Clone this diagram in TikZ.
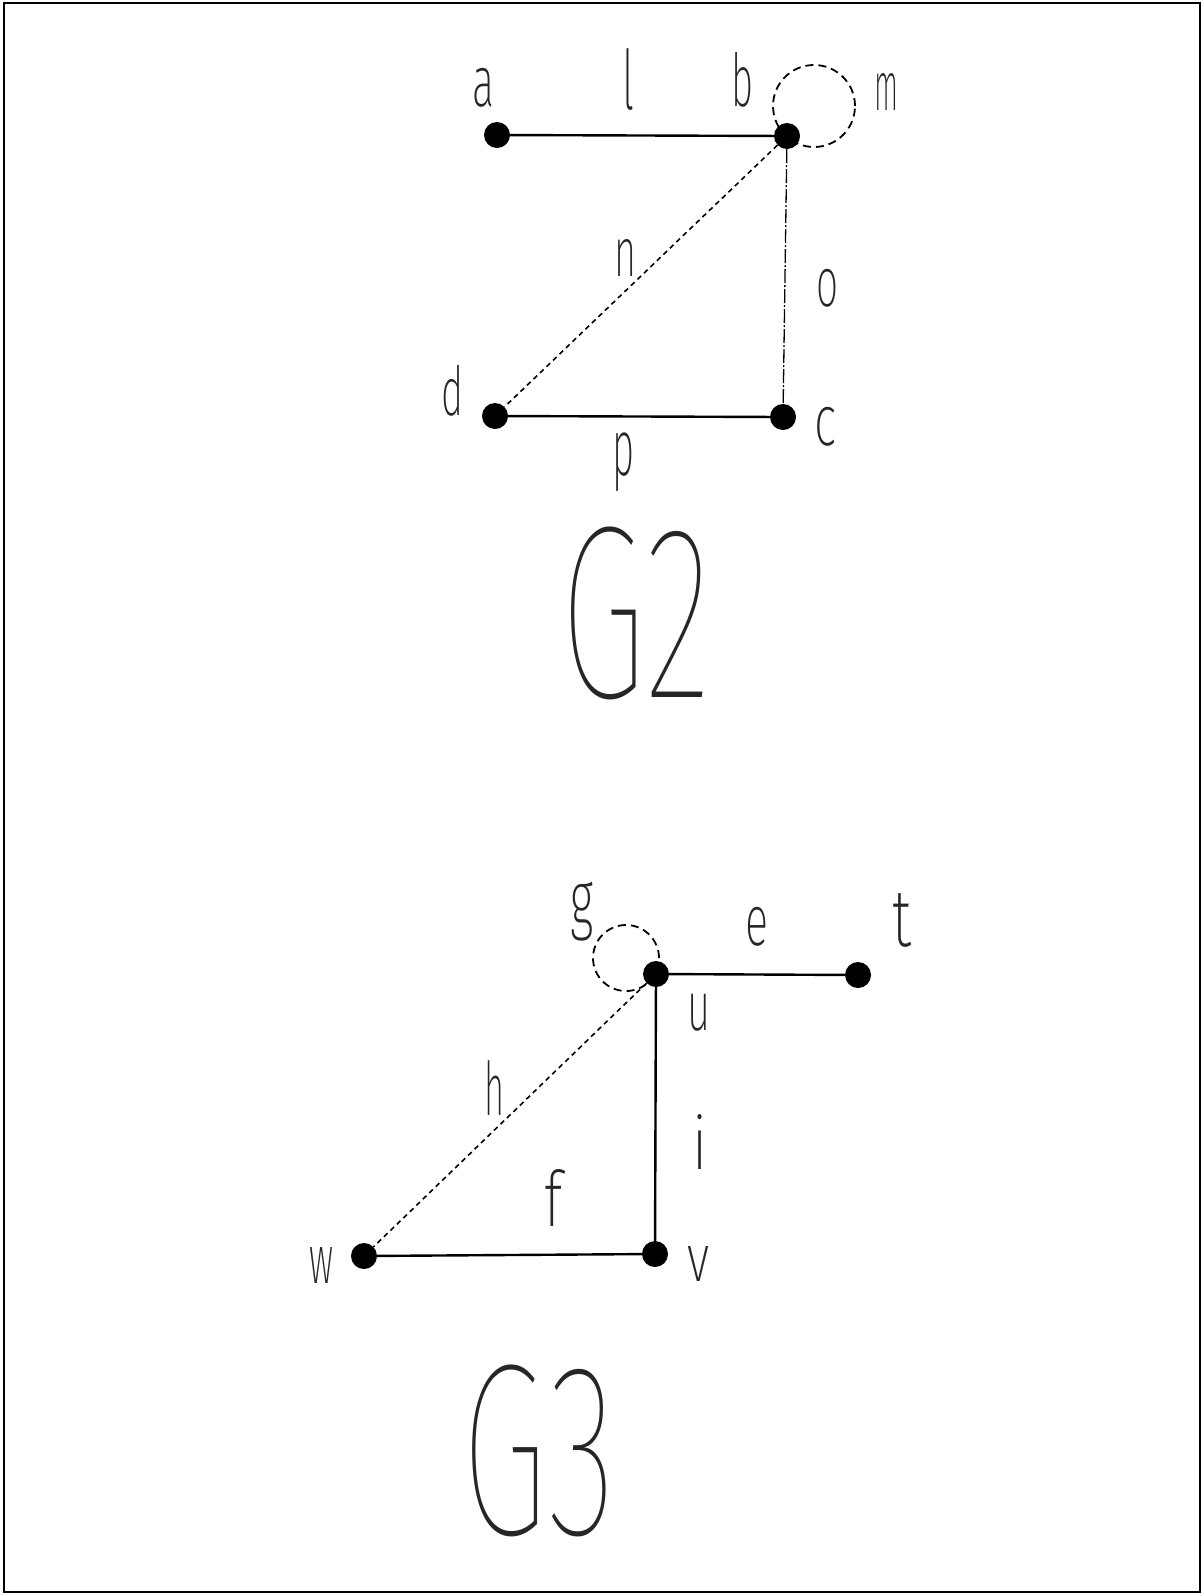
\documentclass[tikz,border=0pt]{standalone}
\usepackage{fontspec}
\usepackage{graphicx}
\usetikzlibrary{calc}
\IfFontExistsTF{Fira Sans Thin}{\newfontfamily\bigfont{Fira Sans Thin}}{%
  \newfontfamily\bigfont{Latin Modern Sans}}
\IfFontExistsTF{Fira Sans ExtraLight}{\newfontfamily\lblfont{Fira Sans ExtraLight}}{%
  \newfontfamily\lblfont{Latin Modern Sans}}
% fit a glyph into a box of given width and total height
\newcommand\fit[3]{\resizebox*{#1pt}{#2pt}{#3}}
\tikzset{
  dot/.style={circle, fill=black, draw=none, minimum size=26pt, inner sep=0pt},
  lbl/.style={inner sep=0pt, text=black!85, font=\lblfont\fontsize{20}{20}\selectfont},
  biglbl/.style={inner sep=0pt, text=black!85, font=\bigfont\fontsize{20}{20}\selectfont},
  solidedge/.style={line width=2.4pt},
  dashedge/.style={line width=1.6pt, dash pattern=on 5pt off 4pt},
  thinedge/.style={line width=1.3pt, dash pattern=on 14pt off 2pt on 2pt off 2pt},
  loopline/.style={line width=1.8pt, dash pattern=on 8pt off 5pt},
  frame/.style={line width=2.6pt}
}
\begin{document}
\begin{tikzpicture}[x=1pt,y=-1pt]
\useasboundingbox (0,0) rectangle (1202,1596);
\draw[frame] (4,3) rectangle (1200,1592);
% G2
\node[dot] (a) at (497,135) {};
\node[dot] (b) at (787,136) {};
\node[dot] (d) at (495,416) {};
\node[dot] (c) at (783,417) {};
\draw[solidedge] (a) -- (b);
\draw[solidedge] (d) -- (c);
\draw[dashedge] (b) -- (d);
\draw[thinedge] (b) -- (c);
\draw[loopline] ($(b)+(27,-30)$) circle[radius=41pt];
\node[lbl] (la) at (483,88)  {\fit{22}{39}{a}};
\node[lbl] (ll) at (628,79)  {\fit{12}{62}{l}};
\node[lbl] (lb) at (742,80)  {\fit{22}{55}{b}};
\node[lbl] (lm) at (886,92)  {\fit{24}{37}{m}};
\node[lbl] (ln) at (625,258) {\fit{22}{37}{n}};
\node[lbl] (lo) at (827,288) {\fit{22}{38}{o}};
\node[lbl] (ld) at (452,391) {\fit{22}{51}{d}};
\node[lbl] (lc) at (825,427) {\fit{22}{39}{c}};
\node[lbl] (lp) at (623,462) {\fit{22}{59}{p}};
\node[biglbl] (g2) at (636,613) {\fit{150}{173}{G2}};
% G3
\node[dot] (u) at (656,974) {};
\node[dot] (t) at (858,975) {};
\node[dot] (w) at (364,1256) {};
\node[dot] (v) at (655,1254) {};
\draw[solidedge] (u) -- (t);
\draw[solidedge] (u) -- (v);
\draw[solidedge] (w) -- (v);
\draw[dashedge] (u) -- (w);
\draw[loopline] ($(u)+(-30,-16)$) circle[radius=33pt];
\node[lbl] (lg) at (582,912)  {\fit{23}{59}{g}};
\node[lbl] (le) at (757,927)  {\fit{23}{39}{e}};
\node[lbl] (lt) at (902,920)  {\fit{19}{54}{t}};
\node[lbl] (lu) at (699,1013) {\fit{23}{37}{u}};
\node[lbl] (lh) at (494,1088) {\fit{20}{55}{h}};
\node[lbl] (li) at (700,1142) {\fit{15}{55}{i}};
\node[lbl] (lf) at (553,1198) {\fit{18}{57}{f}};
\node[lbl] (lw) at (321,1265) {\fit{24}{36}{w}};
\node[lbl] (lv) at (698,1264) {\fit{22}{35}{v}};
\node[biglbl] (g3) at (539,1451) {\fit{154}{172}{G3}};
\end{tikzpicture}
\end{document}
